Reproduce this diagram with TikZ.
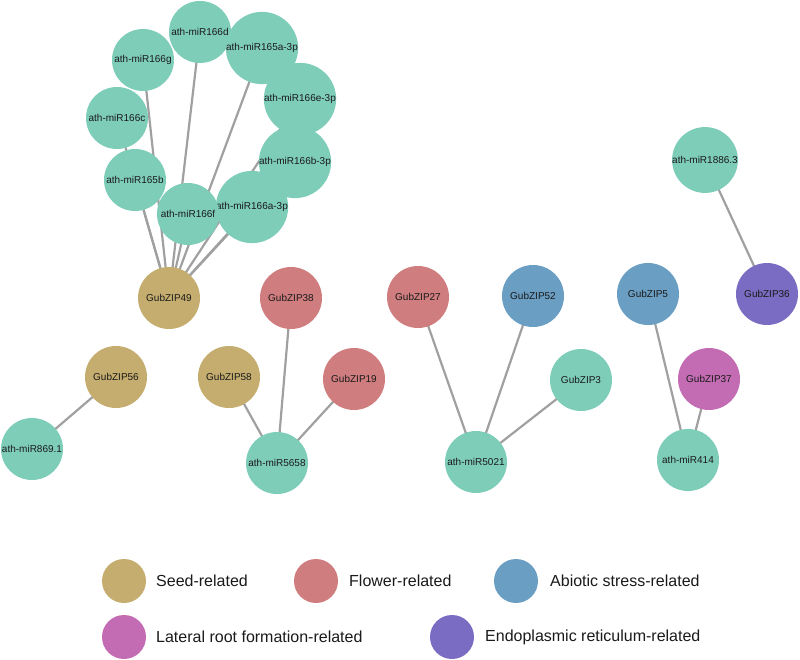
\documentclass[tikz,border=0pt]{standalone}
\usepackage{fontspec}
\setmainfont{Liberation Sans}
\usetikzlibrary{backgrounds}
\definecolor{cteal}{HTML}{7ECDB9}
\definecolor{cgold}{HTML}{C4AD6E}
\definecolor{cred}{HTML}{CF7D7E}
\definecolor{cblue}{HTML}{6A9EC3}
\definecolor{cmag}{HTML}{C46CB3}
\definecolor{cpurp}{HTML}{7A6CC2}
\definecolor{cedge}{HTML}{A0A0A0}
\definecolor{ctext}{HTML}{1A1A1A}
\tikzset{
  gnode/.style={circle, minimum size=62pt, inner sep=0pt, text=ctext, font=\fontsize{10}{12}\selectfont},
  teal/.style={gnode, fill=cteal},
  gold/.style={gnode, fill=cgold},
  redn/.style={gnode, fill=cred},
  blue/.style={gnode, fill=cblue},
  mag/.style={gnode, fill=cmag},
  purp/.style={gnode, fill=cpurp},
  edge/.style={draw=cedge, line width=2.2pt},
  legdot/.style={circle, minimum size=44pt, inner sep=0pt},
  legtxt/.style={anchor=west, inner sep=0pt, text=ctext, font=\fontsize{16}{19}\selectfont}
}
\begin{document}
\begin{tikzpicture}[x=1pt,y=-1pt]
\useasboundingbox (0,0) rectangle (800,660);
% top cluster
\node[teal] (m166d) at (200,32) {ath-miR166d};
\node[teal] (m165a) at (262,48) {ath-miR165a-3p};
\node[teal] (m166g) at (143,60) {ath-miR166g};
\node[teal] (m166e) at (300,99) {ath-miR166e-3p};
\node[teal] (m166c) at (117,118) {ath-miR166c};
\node[teal] (m166b) at (295,162) {ath-miR166b-3p};
\node[teal] (m165b) at (135,180) {ath-miR165b};
\node[teal] (m166a) at (252,207) {ath-miR166a-3p};
\node[teal] (m166f) at (188,214) {ath-miR166f};
\node[gold] (g49) at (169,298) {GubZIP49};
% middle
\node[redn] (g38) at (291,298) {GubZIP38};
\node[gold] (g56) at (116,377) {GubZIP56};
\node[gold] (g58) at (229,377) {GubZIP58};
\node[redn] (g19) at (354,379) {GubZIP19};
\node[teal] (m869) at (32,449) {ath-miR869.1};
\node[teal] (m5658) at (277,463) {ath-miR5658};
\node[teal] (m1886) at (705,160) {ath-miR1886.3};
\node[redn] (g27) at (418,297) {GubZIP27};
\node[blue] (g52) at (533,296) {GubZIP52};
\node[blue] (g5) at (648,294) {GubZIP5};
\node[purp] (g36) at (767,294) {GubZIP36};
\node[teal] (g3) at (581,380) {GubZIP3};
\node[mag] (g37) at (709,379) {GubZIP37};
\node[teal] (m5021) at (476,462) {ath-miR5021};
\node[teal] (m414) at (688,460) {ath-miR414};
% edges
\begin{scope}[on background layer]
\foreach \m in {m166d,m165a,m166g,m166e,m166c,m166b,m165b,m166a,m166f}
  \draw[edge] (\m.center) -- (g49.center);
\draw[edge] (g56.center) -- (m869.center);
\draw[edge] (g58.center) -- (m5658.center);
\draw[edge] (g38.center) -- (m5658.center);
\draw[edge] (g19.center) -- (m5658.center);
\draw[edge] (g27.center) -- (m5021.center);
\draw[edge] (g52.center) -- (m5021.center);
\draw[edge] (g3.center) -- (m5021.center);
\draw[edge] (g5.center) -- (m414.center);
\draw[edge] (g37.center) -- (m414.center);
\draw[edge] (m1886.center) -- (g36.center);
\end{scope}
% legend
\node[legdot, fill=cgold] (l1) at (124,581) {};
\node[legtxt] (t1) at (156,581) {Seed-related};
\node[legdot, fill=cred] (l2) at (316,581) {};
\node[legtxt] (t2) at (349,581) {Flower-related};
\node[legdot, fill=cblue] (l3) at (516,581) {};
\node[legtxt] (t3) at (550,581) {Abiotic stress-related};
\node[legdot, fill=cmag] (l4) at (124,637) {};
\node[legtxt] (t4) at (156,637) {Lateral root formation-related};
\node[legdot, fill=cpurp] (l5) at (452,637) {};
\node[legtxt] (t5) at (485,637) {Endoplasmic reticulum-related};
\end{tikzpicture}
\end{document}
